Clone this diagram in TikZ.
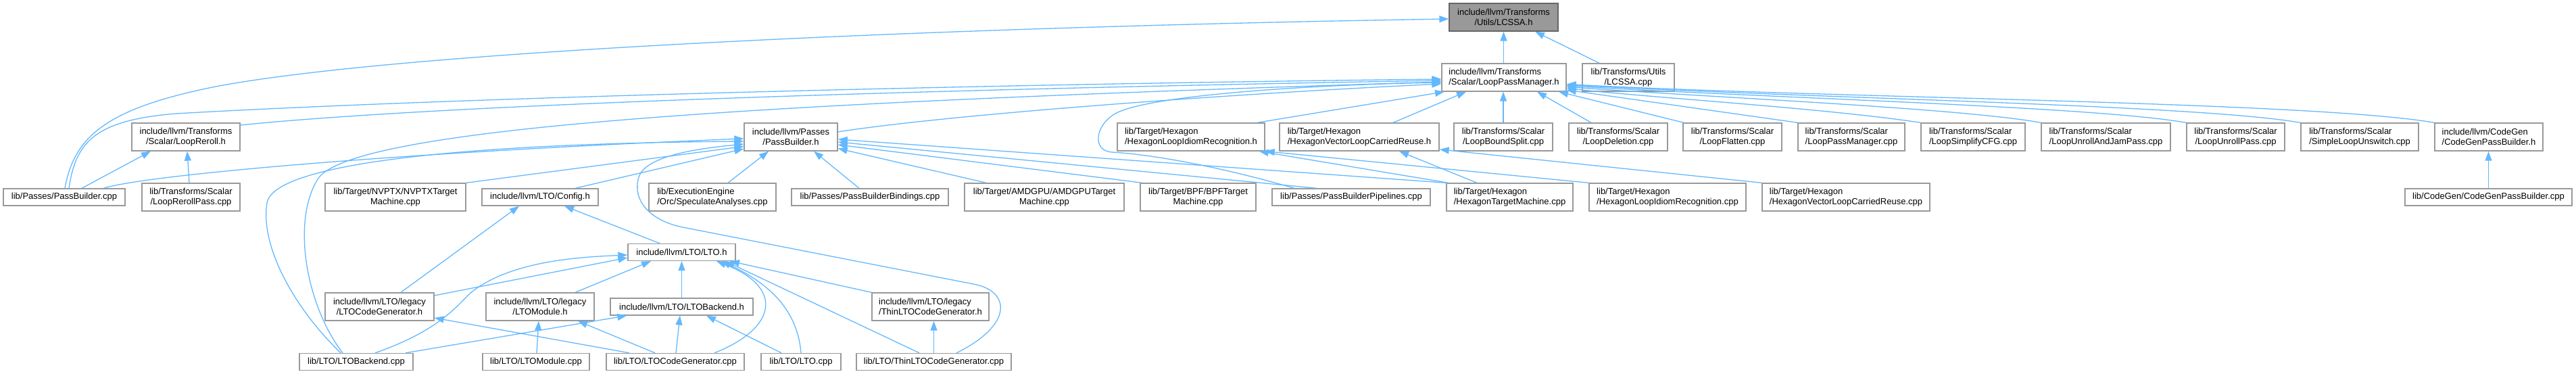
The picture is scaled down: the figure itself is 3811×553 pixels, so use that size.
\documentclass[tikz,border=0pt]{standalone}
\usepackage{fontspec}
\setmainfont{Liberation Sans}
\usetikzlibrary{arrows.meta}
\definecolor{edgec}{HTML}{63B8FF}
\definecolor{boxc}{HTML}{999999}
\definecolor{rootb}{HTML}{666666}
\newcommand\twoln[2]{\setbox0=\hbox{#1}\setbox2=\hbox{#2}\ifdim\wd0>\wd2 \dimen0=\wd0 \else\dimen0=\wd2 \fi\vbox{\baselineskip=15pt\hbox to\dimen0{\box0\hfil}\hbox to\dimen0{\hfil\box2\hfil}}}
\tikzset{
  box/.style={draw=boxc, fill=white, line width=1.3pt, inner sep=0pt, minimum height=41pt, font=\fontsize{13}{15}\selectfont, text=black},
  one/.style={box, minimum height=25pt},
  root/.style={box, fill=boxc, draw=rootb},
  edge/.style={draw=edgec, line width=1.3pt, -{Triangle[length=14pt,width=10pt]}}
}
\begin{document}
\begin{tikzpicture}[x=1pt,y=-1pt]
\useasboundingbox (0,0) rectangle (3811,553);
% rank 0
\node[root, minimum width=161pt] (LCSSAh) at (2224.5,25.5) {\twoln{include/llvm/Transforms}{/Utils/LCSSA.h}};
% rank 1
\node[box, minimum width=184pt] (LPMh) at (2225,114.5) {\twoln{include/llvm/Transforms}{/Scalar/LoopPassManager.h}};
\node[box, minimum width=136pt] (LCSSAcpp) at (2409,114.5) {\twoln{lib/Transforms/Utils}{/LCSSA.cpp}};
% rank 2
\node[box, minimum width=160pt] (LRh) at (275,202.5) {\twoln{include/llvm/Transforms}{/Scalar/LoopReroll.h}};
\node[box, minimum width=138pt] (PBh) at (1170,202.5) {\twoln{include/llvm/Passes}{/PassBuilder.h}};
\node[box, minimum width=218pt] (HLIRh) at (1762,202.5) {\twoln{lib/Target/Hexagon}{/HexagonLoopIdiomRecognition.h}};
\node[box, minimum width=236pt] (HVLCRh) at (2011,202.5) {\twoln{lib/Target/Hexagon}{/HexagonVectorLoopCarriedReuse.h}};
\node[box, minimum width=146pt] (LBS) at (2224,202.5) {\twoln{lib/Transforms/Scalar}{/LoopBoundSplit.cpp}};
\node[box, minimum width=146pt] (LDel) at (2394,202.5) {\twoln{lib/Transforms/Scalar}{/LoopDeletion.cpp}};
\node[box, minimum width=146pt] (LFlat) at (2563,202.5) {\twoln{lib/Transforms/Scalar}{/LoopFlatten.cpp}};
\node[box, minimum width=158pt] (LPMcpp) at (2739,202.5) {\twoln{lib/Transforms/Scalar}{/LoopPassManager.cpp}};
\node[box, minimum width=154pt] (LSCFG) at (2919,202.5) {\twoln{lib/Transforms/Scalar}{/LoopSimplifyCFG.cpp}};
\node[box, minimum width=191pt] (LUAJ) at (3115.5,202.5) {\twoln{lib/Transforms/Scalar}{/LoopUnrollAndJamPass.cpp}};
\node[box, minimum width=145pt] (LUP) at (3307.5,202.5) {\twoln{lib/Transforms/Scalar}{/LoopUnrollPass.cpp}};
\node[box, minimum width=174pt] (SLU) at (3491,202.5) {\twoln{lib/Transforms/Scalar}{/SimpleLoopUnswitch.cpp}};
\node[box, minimum width=160pt] (CGPBh) at (3682,202.5) {\twoln{include/llvm/CodeGen}{/CodeGenPassBuilder.h}};
% rank 3
\node[one, minimum width=180pt] (PBcpp) at (95,291.5) {lib/Passes/PassBuilder.cpp};
\node[box, minimum width=145pt] (LRPcpp) at (282.5,291.5) {\twoln{lib/Transforms/Scalar}{/LoopRerollPass.cpp}};
\node[box, minimum width=208pt] (NVPTX) at (585,291.5) {\twoln{lib/Target/NVPTX/NVPTXTarget}{Machine.cpp}};
\node[one, minimum width=172pt] (Config) at (799,291.5) {include/llvm/LTO/Config.h};
\node[box, minimum width=188pt] (ExecEng) at (1054,291.5) {\twoln{lib/ExecutionEngine}{/Orc/SpeculateAnalyses.cpp}};
\node[one, minimum width=232pt] (PBBind) at (1287,291.5) {lib/Passes/PassBuilderBindings.cpp};
\node[box, minimum width=236pt] (AMDGPU) at (1545,291.5) {\twoln{lib/Target/AMDGPU/AMDGPUTarget}{Machine.cpp}};
\node[box, minimum width=171pt] (BPF) at (1772.5,291.5) {\twoln{lib/Target/BPF/BPFTarget}{Machine.cpp}};
\node[one, minimum width=234pt] (PBPipe) at (1999,291.5) {lib/Passes/PassBuilderPipelines.cpp};
\node[box, minimum width=187pt] (HTM) at (2233.5,291.5) {\twoln{lib/Target/Hexagon}{/HexagonTargetMachine.cpp}};
\node[box, minimum width=232pt] (HLIRcpp) at (2467,291.5) {\twoln{lib/Target/Hexagon}{/HexagonLoopIdiomRecognition.cpp}};
\node[box, minimum width=248pt] (HVLCRcpp) at (2731,291.5) {\twoln{lib/Target/Hexagon}{/HexagonVectorLoopCarriedReuse.cpp}};
\node[one, minimum width=247pt] (CGPBcpp) at (3681.5,291.5) {lib/CodeGen/CodeGenPassBuilder.cpp};
% rank 4
\node[one, minimum width=159pt] (LTOh) at (1008.5,373) {include/llvm/LTO/LTO.h};
% rank 5
\node[box, minimum width=161pt] (LTOCGh) at (561.5,453.5) {\twoln{include/llvm/LTO/legacy}{/LTOCodeGenerator.h}};
\node[box, minimum width=160pt] (LTOModh) at (799,453.5) {\twoln{include/llvm/LTO/legacy}{/LTOModule.h}};
\node[one, minimum width=211pt] (LTOBh) at (1008.5,453.5) {include/llvm/LTO/LTOBackend.h};
\node[box, minimum width=173pt] (ThinLTOh) at (1376.5,453.5) {\twoln{include/llvm/LTO/legacy}{/ThinLTOCodeGenerator.h}};
% rank 6
\node[one, minimum width=168pt] (LTOBcpp) at (527,535) {lib/LTO/LTOBackend.cpp};
\node[one, minimum width=158pt] (LTOModcpp) at (793,535) {lib/LTO/LTOModule.cpp};
\node[one, minimum width=204pt] (LTOCGcpp) at (999,535) {lib/LTO/LTOCodeGenerator.cpp};
\node[one, minimum width=118pt] (LTOcpp) at (1185,535) {lib/LTO/LTO.cpp};
\node[one, minimum width=229pt] (ThinLTOcpp) at (1381.5,535) {lib/LTO/ThinLTOCodeGenerator.cpp};

% edges into LCSSA.h
\draw[edge] (LCSSAh.south |- LPMh.north) -- (LCSSAh.south);
\draw[edge] ([shift={(-43,0)}]LCSSAcpp.north) -- ([shift={(46.5,0)}]LCSSAh.south);
\draw[edge] ([shift={(1,0)}]PBcpp.north) .. controls (110,200) and (160,160) .. (319,128) .. controls (600,75) and (1400,40) .. ([shift={(0,2.5)}]LCSSAh.west);
% edges into LoopPassManager.h
\draw[edge] ([shift={(7,0)}]PBcpp.north) .. controls (112,210) and (140,178) .. (260,168) .. controls (700,143) and (1500,124) .. ([shift={(0,2.5)}]LPMh.west);
\draw[edge] ([shift={(0,-17.5)}]LRh.east) .. controls (600,160) and (1200,135) .. ([shift={(0,4.5)}]LPMh.west);
\draw[edge] ([shift={(0,-7.5)}]PBh.east) .. controls (1400,170) and (1800,140) .. ([shift={(0,9.5)}]LPMh.west);
\draw[edge] ([shift={(-20,0)}]LTOBcpp.north) .. controls (455,455) and (430,330) .. (470,265) .. controls (520,184) and (1200,150) .. ([shift={(0,6.5)}]LPMh.west);
\draw[edge] ([shift={(-84,0)}]PBPipe.north) .. controls (1800,245) and (1700,228) .. (1645,225) .. controls (1615,223) and (1620,185) .. (1650,168) .. controls (1700,140) and (1950,125) .. ([shift={(0,7.5)}]LPMh.west);
\draw[edge] ([shift={(98,0)}]HLIRh.north) -- ([shift={(-88,0)}]LPMh.south);
\draw[edge] ([shift={(50,0)}]HVLCRh.north) -- ([shift={(-56,0)}]LPMh.south);
\draw[edge] (LBS.north) -- (LBS.north |- LPMh.south);
\draw[edge] ([shift={(-40,0)}]LDel.north) -- ([shift={(49,0)}]LPMh.south);
\draw[edge] ([shift={(-72,0)}]LFlat.north) -- ([shift={(81,0)}]LPMh.south);
\draw[edge] (LPMcpp.north west) -- ([shift={(0,18.5)}]LPMh.east);
\draw[edge] (LSCFG.north west) .. controls (2700,160) and (2450,145) .. ([shift={(0,16)}]LPMh.east);
\draw[edge] (LUAJ.north west) .. controls (2900,160) and (2550,145) .. ([shift={(0,14)}]LPMh.east);
\draw[edge] (LUP.north west) .. controls (3100,158) and (2650,146) .. ([shift={(0,12.5)}]LPMh.east);
\draw[edge] (SLU.north west) .. controls (3250,155) and (2700,146) .. ([shift={(0,11)}]LPMh.east);
\draw[edge] (CGPBh.north west) .. controls (3420,150) and (2700,145) .. ([shift={(0,10)}]LPMh.east);
% LoopReroll.h
\draw[edge] ([shift={(26,0)}]PBcpp.north) -- ([shift={(-52,0)}]LRh.south);
\draw[edge] ([shift={(-2.5,0)}]LRPcpp.north) -- ([shift={(2,0)}]LRh.south);
% CodeGenPassBuilder.h
\draw[edge] (CGPBcpp.north) -- (CGPBcpp.north |- CGPBh.south);
% edges into PassBuilder.h
\draw[edge] ([shift={(58,0)}]PBcpp.north) .. controls (220,258) and (600,225) .. ([shift={(0,2.5)}]PBh.west);
\draw[edge] ([shift={(-23,0)}]LTOBcpp.north) .. controls (430,450) and (385,360) .. (395,300) .. controls (405,240) and (700,212) .. ([shift={(0,6.5)}]PBh.west);
\draw[edge] ([shift={(33.5,0)}]ThinLTOcpp.north) .. controls (1500,480) and (1495,430) .. (1440,420) -- (1010,336) .. controls (960,326) and (935,295) .. (945,262) .. controls (955,229) and (1040,219) .. ([shift={(0,10.5)}]PBh.west);
\draw[edge] (NVPTX.north east) -- ([shift={(0,14)}]PBh.west);
\draw[edge] ([shift={(52,0)}]Config.north) -- ([shift={(0,17.5)}]PBh.west);
\draw[edge] ([shift={(23,0)}]ExecEng.north) -- ([shift={(-33,0)}]PBh.south);
\draw[edge] ([shift={(-16,0)}]PBBind.north) -- ([shift={(34,0)}]PBh.south);
\draw[edge] ([shift={(-86,0)}]AMDGPU.north) -- ([shift={(0,17)}]PBh.east);
\draw[edge] ([shift={(-82.5,0)}]BPF.north) -- ([shift={(0,11.5)}]PBh.east);
\draw[edge] ([shift={(-51,0)}]PBPipe.north) -- ([shift={(0,7.5)}]PBh.east);
\draw[edge] (HTM.north west) -- ([shift={(0,3.5)}]PBh.east);
% Hexagon headers
\draw[edge] ([shift={(3,0)}]HTM.north west) -- ([shift={(-9,0)}]HLIRh.south east);
\draw[edge] (HLIRcpp.north west) -- (HLIRh.south east);
\draw[edge] ([shift={(-48.5,0)}]HTM.north) -- ([shift={(59,0)}]HVLCRh.south);
\draw[edge] (HVLCRcpp.north west) -- ([shift={(0,18.5)}]HVLCRh.east);
% Config.h
\draw[edge] ([shift={(31.5,0)}]LTOCGh.north) -- ([shift={(-31,0)}]Config.south);
\draw[edge] ([shift={(-32.5,0)}]LTOh.north) -- ([shift={(36,0)}]Config.south);
% LTO.h
\draw[edge] ([shift={(0,-16.5)}]LTOCGh.east) -- ([shift={(0,8)}]LTOh.west);
\draw[edge] ([shift={(52,0)}]LTOModh.north) -- ([shift={(-45.5,0)}]LTOh.south);
\draw[edge] (LTOBh.north) -- (LTOh.south);
\draw[edge] (ThinLTOh.north west) -- ([shift={(71.5,0)}]LTOh.south);
\draw[edge] ([shift={(28,0)}]LTOBcpp.north) .. controls (660,485) and (680,445) .. (700,430) .. controls (760,385) and (860,380) .. ([shift={(0,4)}]LTOh.west);
\draw[edge] ([shift={(58,0)}]LTOCGcpp.north) .. controls (1150,485) and (1160,425) .. ([shift={(51.5,0)}]LTOh.south);
\draw[edge] (LTOcpp.north) .. controls (1180,460) and (1140,420) .. ([shift={(58.5,0)}]LTOh.south);
\draw[edge] ([shift={(-21.5,0)}]ThinLTOcpp.north) -- ([shift={(64.5,0)}]LTOh.south);
% rank 5 headers
\draw[edge] ([shift={(73,0)}]LTOBcpp.north) -- ([shift={(25,0)}]LTOBh.south west);
\draw[edge] ([shift={(-68,0)}]LTOCGcpp.north) -- ([shift={(0,16.5)}]LTOCGh.east);
\draw[edge] ([shift={(-30,0)}]LTOCGcpp.north) -- ([shift={(56,0)}]LTOModh.south);
\draw[edge] ([shift={(1,0)}]LTOCGcpp.north) -- ([shift={(-2.5,0)}]LTOBh.south);
\draw[edge] ([shift={(1,0)}]LTOModcpp.north) -- ([shift={(-2,0)}]LTOModh.south);
\draw[edge] ([shift={(-29,0)}]LTOcpp.north) -- ([shift={(36.5,0)}]LTOBh.south);
\draw[edge] (ThinLTOcpp.north) -- (ThinLTOcpp.north |- ThinLTOh.south);
\end{tikzpicture}
\end{document}
